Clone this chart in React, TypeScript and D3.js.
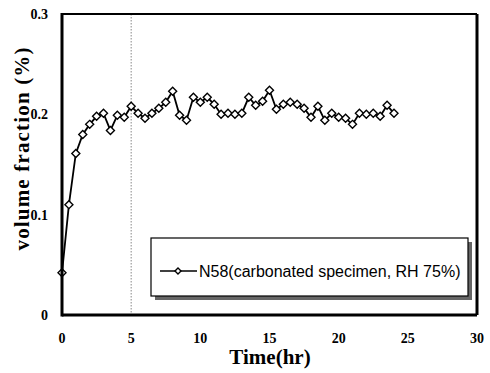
import React from "react";
import * as d3 from "d3";

const times = [0, 0.5, 1, 1.5, 2, 2.5, 3, 3.5, 4, 4.5, 5, 5.5, 6, 6.5, 7, 7.5, 8, 8.5, 9, 9.5, 10, 10.5, 11, 11.5, 12, 12.5, 13, 13.5, 14, 14.5, 15, 15.5, 16, 16.5, 17, 17.5, 18, 18.5, 19, 19.5, 20, 20.5, 21, 21.5, 22, 22.5, 23, 23.5, 24];
const values = [0.042, 0.110, 0.161, 0.180, 0.190, 0.198, 0.201, 0.184, 0.199, 0.197, 0.208, 0.201, 0.196, 0.201, 0.206, 0.212, 0.223, 0.199, 0.194, 0.217, 0.212, 0.217, 0.210, 0.200, 0.201, 0.200, 0.201, 0.217, 0.209, 0.213, 0.224, 0.205, 0.210, 0.212, 0.210, 0.206, 0.197, 0.208, 0.194, 0.201, 0.197, 0.196, 0.190, 0.201, 0.200, 0.201, 0.198, 0.209, 0.201];
const xTicks = [0, 5, 10, 15, 20, 25, 30];
const yTicks = [0, 0.1, 0.2, 0.3];
const yTickLabels = ["0", "0.1", "0.2", "0.3"];
const seriesName = "N58(carbonated specimen, RH 75%)";
const refLineX = 5;

const W = 490, H = 373;
const L = 62, R = 477, T = 14, B = 315;

function Diamond({ cx, cy, s }: { cx: number; cy: number; s: number }) {
  const p = `M${cx},${cy - s} L${cx + s},${cy} L${cx},${cy + s} L${cx - s},${cy} Z`;
  return <path d={p} fill="#fff" stroke="#000" strokeWidth={1.4} />;
}

export default function App() {
  const x = d3.scaleLinear().domain([0, 30]).range([L, R]);
  const y = d3.scaleLinear().domain([0, 0.3]).range([B, T]);
  const data = times.map((t, i) => [t, values[i]] as [number, number]);
  const line = d3.line<[number, number]>().x(d => x(d[0])).y(d => y(d[1]));
  const serif = "'Liberation Serif', 'Times New Roman', serif";
  return (
    <svg width={W} height={H} style={{ position: "absolute", left: 0, top: 0, background: "#fff" }}>
      <rect x={0} y={0} width={W} height={H} fill="#fff" />
      <line x1={x(refLineX)} x2={x(refLineX)} y1={T} y2={B} stroke="#888" strokeWidth={1} strokeDasharray="1.5,1.5" />
      {/* legend */}
      <rect x={155} y={242} width={317} height={58} fill="#666" />
      <rect x={151} y={238} width={317} height={58} fill="#fff" stroke="#000" strokeWidth={1.2} />
      <line x1={160} x2={197} y1={271} y2={271} stroke="#000" strokeWidth={1.5} />
      <Diamond cx={178} cy={271} s={3} />
      <text x={199} y={276.5} fontFamily="Arial, 'Liberation Sans', sans-serif" fontSize={16} fill="#000">{seriesName}</text>
      {/* series */}
      <path d={line(data) || ""} fill="none" stroke="#000" strokeWidth={1.8} />
      {data.map((d, i) => (
        <Diamond key={i} cx={x(d[0])} cy={y(d[1])} s={4} />
      ))}
      {/* frame */}
      <line x1={L} x2={R} y1={T} y2={T} stroke="#000" strokeWidth={2} />
      <line x1={R} x2={R} y1={T} y2={B} stroke="#000" strokeWidth={3} />
      <line x1={L} x2={L} y1={T - 1} y2={B + 1.5} stroke="#000" strokeWidth={3} />
      <line x1={L} x2={R} y1={B} y2={B} stroke="#000" strokeWidth={3} />
      {xTicks.map(t => (
        <text key={t} x={x(t)} y={343} textAnchor="middle" fontFamily={serif} fontWeight="bold" fontSize={14}>{t}</text>
      ))}
      {yTicks.map((t, i) => (
        <text key={t} x={48} y={y(t) + 5} textAnchor="end" fontFamily={serif} fontWeight="bold" fontSize={14}>{yTickLabels[i]}</text>
      ))}
      <text x={270} y={364} textAnchor="middle" fontFamily={serif} fontWeight="bold" fontSize={21}>Time(hr)</text>
      <text transform={`translate(29,149) rotate(-90)`} textAnchor="middle" fontFamily={serif} fontWeight="bold" fontSize={21} textLength={203} lengthAdjust="spacing">volume fraction (%)</text>
    </svg>
  );
}
